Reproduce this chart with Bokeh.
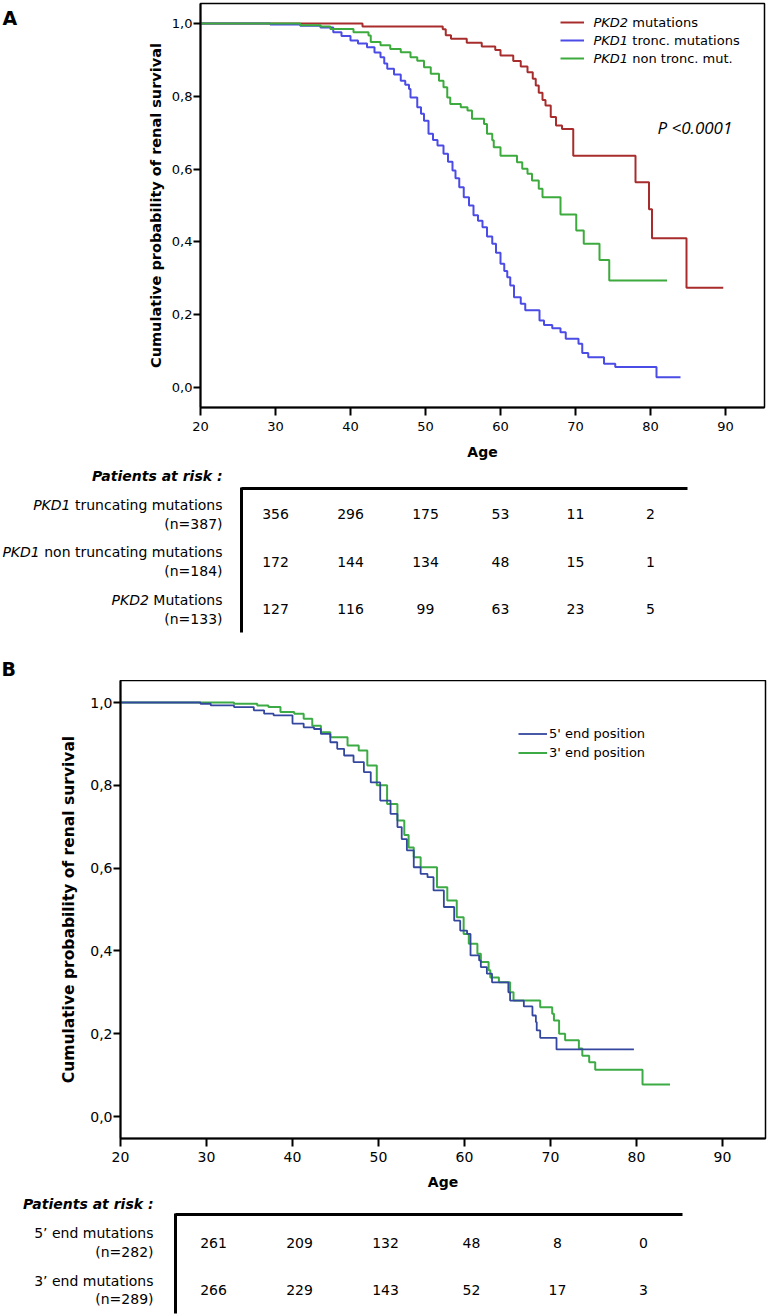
from bokeh.plotting import figure
from bokeh.models import (Range1d, FixedTicker, CustomJSTickFormatter, Legend,
                          LegendItem, Label)
from bokeh.layouts import row
from bokeh.embed import file_html
from bokeh.resources import INLINE
from bokeh.core.properties import value

# ---------------- data ----------------
x_ticks = [20, 30, 40, 50, 60, 70, 80, 90]
y_ticks = [0.0, 0.2, 0.4, 0.6, 0.8, 1.0]

# Panel A : Kaplan-Meier steps (age of step, survival after step)
pkd2_age = [20, 41.6, 52.3, 52.7, 53.4, 55.5, 57.5, 59.3, 60.0, 61.7, 62.7, 63.6,
            64.3, 64.7, 65.1, 65.6, 66.0, 66.7, 67.4, 68.2, 69.7, 78.0, 79.8,
            80.2, 84.8, 89.7]
pkd2_surv = [1.0, 0.992, 0.984, 0.968, 0.958, 0.947, 0.937, 0.927, 0.912, 0.897,
             0.882, 0.866, 0.848, 0.83, 0.81, 0.79, 0.775, 0.743, 0.72, 0.71,
             0.637, 0.564, 0.49, 0.41, 0.274, 0.274]

pkd1_trunc_age = [20, 29.3, 33.3, 36.0, 37.7, 38.8, 40.0, 41.0, 42.2, 43.2, 44.0,
                  44.5, 44.9, 45.8, 46.7, 47.3, 47.8, 48.0, 48.9, 49.4, 49.8, 50.4,
                  51.0, 51.6, 52.4, 53.0, 53.6, 54.0, 54.5, 55.1, 55.8, 56.4, 57.0,
                  57.6, 58.2, 58.9, 59.4, 60.0, 60.5, 60.9, 61.3, 61.8, 62.7, 63.3,
                  65.2, 65.8, 66.9, 68.0, 68.7, 70.4, 70.9, 71.7, 73.8, 75.3, 80.8,
                  84.0]
pkd1_trunc_surv = [1.0, 0.997, 0.994, 0.989, 0.976, 0.966, 0.953, 0.945, 0.935,
                   0.92, 0.907, 0.89, 0.876, 0.86, 0.843, 0.832, 0.82, 0.797, 0.77,
                   0.752, 0.733, 0.697, 0.68, 0.665, 0.642, 0.62, 0.596, 0.575,
                   0.55, 0.523, 0.50, 0.473, 0.458, 0.44, 0.415, 0.395, 0.37, 0.34,
                   0.32, 0.303, 0.28, 0.248, 0.23, 0.212, 0.184, 0.172, 0.163,
                   0.152, 0.134, 0.12, 0.095, 0.083, 0.065, 0.056, 0.028, 0.028]

pkd1_nontrunc_age = [20, 33.3, 36.0, 37.3, 40.4, 42.4, 42.7, 44.0, 45.3, 46.7, 48.0,
                     48.9, 49.8, 50.7, 51.8, 52.4, 52.9, 53.3, 54.7, 55.6, 56.2,
                     57.8, 58.2, 58.9, 59.1, 60.0, 62.2, 62.9, 63.6, 64.2, 65.1,
                     65.6, 68.0, 70.1, 71.1, 73.2, 74.5, 82.2]
pkd1_nontrunc_surv = [1.0, 0.995, 0.992, 0.985, 0.976, 0.967, 0.949, 0.94, 0.93,
                      0.921, 0.907, 0.898, 0.88, 0.862, 0.843, 0.825, 0.797, 0.779,
                      0.77, 0.761, 0.738, 0.724, 0.697, 0.679, 0.66, 0.637, 0.619,
                      0.601, 0.587, 0.569, 0.546, 0.523, 0.475, 0.431, 0.395, 0.35,
                      0.294, 0.294]

# Panel B
end5_age = [20, 29.3, 30.5, 33.2, 35.5, 36.7, 37.8, 40.0, 41.3, 42.5, 43.3, 44.4,
            45.2, 46.0, 47.1, 48.3, 49.1, 50.2, 51.4, 52.2, 52.7, 53.3, 54.1, 54.9,
            55.7, 56.4, 57.6, 58.8, 59.5, 60.3, 60.7, 61.7, 61.9, 62.6, 63.2, 65.1,
            65.3, 66.9, 67.9, 68.3, 68.4, 68.8, 70.7, 79.7]
end5_surv = [1.0, 0.997, 0.993, 0.989, 0.981, 0.973, 0.969, 0.949, 0.940, 0.936,
             0.924, 0.904, 0.888, 0.872, 0.856, 0.832, 0.807, 0.763, 0.731, 0.699,
             0.67, 0.643, 0.602, 0.586, 0.578, 0.546, 0.506, 0.473, 0.449, 0.441,
             0.389, 0.377, 0.361, 0.345, 0.324, 0.300, 0.280, 0.266, 0.244, 0.228,
             0.208, 0.190, 0.162, 0.162]

end3_age = [20, 33.2, 35.9, 37.2, 38.6, 40.2, 41.3, 42.3, 43.3, 44.4, 46.4, 47.7,
            48.7, 49.8, 51.0, 52.2, 53.0, 53.5, 54.1, 54.9, 56.8, 58.0, 59.1, 59.9,
            60.5, 61.5, 61.9, 62.8, 63.0, 64.0, 65.3, 65.7, 68.8, 70.2, 70.4, 71.0,
            71.7, 73.3, 73.7, 74.5, 75.2, 80.7, 83.9]
end3_surv = [1.0, 0.997, 0.993, 0.989, 0.977, 0.973, 0.961, 0.944, 0.928, 0.916,
             0.896, 0.884, 0.848, 0.80, 0.755, 0.715, 0.68, 0.65, 0.626, 0.602,
             0.554, 0.522, 0.481, 0.441, 0.417, 0.393, 0.373, 0.353, 0.336, 0.324,
             0.300, 0.280, 0.264, 0.248, 0.232, 0.200, 0.184, 0.164, 0.147, 0.131,
             0.113, 0.077, 0.077]

# Patients at risk
risk_ages = [30, 40, 50, 60, 70, 80]
riskA_pkd1_trunc = [356, 296, 175, 53, 11, 2]
riskA_pkd1_nontrunc = [172, 144, 134, 48, 15, 1]
riskA_pkd2 = [127, 116, 99, 63, 23, 5]
riskB_5end = [261, 209, 132, 48, 8, 0]
riskB_3end = [266, 229, 143, 52, 17, 3]

# ---------------- styling ----------------
FONT = "DejaVu Sans"
RED = "#A82C2C"
BLUE_A = "#4B4BE6"
GREEN_A = "#3CAA3C"
BLUE_B = "#34479F"
GREEN_B = "#3DAB45"

# approximate DejaVu Sans advance widths (em) for text layout
W = {' ': .318, '.': .318, 'a': .613, 'b': .635, 'c': .550, 'd': .635, 'e': .615,
     'f': .352, 'g': .635, 'h': .634, 'i': .278, 'l': .278, 'm': .974, 'n': .634,
     'o': .612, 'p': .635, 'r': .411, 's': .521, 't': .392, 'u': .634, 'v': .592,
     'M': .863, 'P': .603, 'K': .656, 'D': .770, '1': .636, '2': .636}


def tw(s, size):
    return sum(W.get(c, 0.6) for c in s) * size


# pixel -> data helpers (layout only; page has no margin)
def a_x(px): return 20 + (px - 200) / 7.5
def a_y(py): return (387 - py) / 364
def b_x(px): return 20 + (px - 120) / 8.6
def b_y(py): return (1116 - py) / 414


def style_plot(p, tick_px, ylab_px, x_tick_out, y_tick_out, x_std, y_std, x_lab_std, y_lab_std):
    p.xgrid.visible = False
    p.ygrid.visible = False
    p.outline_line_color = "black"
    p.outline_line_width = 1.5
    p.background_fill_color = "white"
    p.border_fill_color = "white"
    p.xaxis.ticker = FixedTicker(ticks=x_ticks)
    p.yaxis.ticker = FixedTicker(ticks=y_ticks)
    p.yaxis.formatter = CustomJSTickFormatter(code="return tick.toFixed(1).replace('.', ',');")
    for ax in p.axis:
        ax.axis_line_width = 2
        ax.axis_line_color = "black"
        ax.major_tick_line_width = 2
        ax.major_tick_line_color = "black"
        ax.major_tick_in = 0
        ax.minor_tick_line_color = None
        ax.major_label_text_font = FONT
        ax.major_label_text_font_size = tick_px
        ax.major_label_text_color = "black"
        ax.axis_label_text_font = FONT
        ax.axis_label_text_font_style = "bold"
        ax.axis_label_text_color = "black"
    p.xaxis.major_tick_out = x_tick_out
    p.yaxis.major_tick_out = y_tick_out
    p.xaxis.major_label_standoff = x_std
    p.yaxis.major_label_standoff = y_std
    p.xaxis.axis_label_standoff = x_lab_std
    p.yaxis.axis_label_standoff = y_lab_std
    p.xaxis.axis_label_text_font_size = "14px"
    p.yaxis.axis_label_text_font_size = ylab_px


def lab(p, x, y, text, size, style="normal", align="left", baseline="middle", font=FONT):
    p.add_layout(Label(x=x, y=y, text=text, text_font=font, text_font_size=size,
                       text_font_style=style, text_align=align,
                       text_baseline=baseline, text_color="black"))


def blank_fig(w, h, xr, yr):
    f = figure(width=w, height=h, x_range=xr, y_range=yr, output_backend="svg",
               toolbar_location=None, x_axis_type=None, y_axis_type=None,
               min_border=0, min_border_left=0, min_border_right=0,
               min_border_top=0, min_border_bottom=0)
    f.outline_line_color = None
    f.xgrid.visible = False
    f.ygrid.visible = False
    return f


# ---------------- Panel A plot ----------------
fa = blank_fig(20, 466, Range1d(0, 20), Range1d(466, 0))
lab(fa, 2, 4, "A", "19px", "bold", baseline="top")

pa = figure(width=748, height=466, x_range=Range1d(20, a_x(764)),
            y_range=Range1d(a_y(407), a_y(3)), output_backend="svg",
            toolbar_location=None, min_border_left=180, min_border_right=4,
            min_border_top=3, min_border_bottom=59)
style_plot(pa, "13px", "14.5px", 8, 7, 6, 1, 10, 5)
pa.xaxis.axis_label = "Age"
pa.yaxis.axis_label = "Cumulative probability of renal survival"

r_pkd2 = pa.step(pkd2_age, pkd2_surv, mode="after", line_color=RED, line_width=2)
r_tr = pa.step(pkd1_trunc_age, pkd1_trunc_surv, mode="after", line_color=BLUE_A, line_width=2)
r_nt = pa.step(pkd1_nontrunc_age, pkd1_nontrunc_surv, mode="after", line_color=GREEN_A, line_width=2)

leg_a = Legend(items=[LegendItem(label=" ", renderers=[r_pkd2]),
                      LegendItem(label=" ", renderers=[r_tr]),
                      LegendItem(label=" ", renderers=[r_nt])],
               location=(360, 340), orientation="vertical", padding=0, spacing=0,
               margin=0, glyph_width=24, glyph_height=18, label_height=18,
               label_width=4, label_standoff=0, border_line_color=None,
               background_fill_alpha=0, label_text_font_size="13px")
pa.add_layout(leg_a)

legA_ital = ["PKD2", "PKD1", "PKD1"]
legA_rest = ["mutations", "tronc. mutations", "non tronc. mut."]
for i, cy in enumerate([22, 40, 58]):
    lab(pa, a_x(593), a_y(cy), legA_ital[i], "13px", "italic")
    lab(pa, a_x(593 + tw(legA_ital[i] + " ", 13)), a_y(cy), legA_rest[i], "13px")

lab(pa, a_x(657), a_y(127), "P <0.0001", "17px", "italic", font="Open Sans")

# ---------------- Panel A table ----------------
ta = blank_fig(768, 214, Range1d(a_x(0), a_x(768)), Range1d(680, 466))

lab(ta, a_x(222), 475, "Patients at risk :", "14px", "bold italic", align="right")
ta.segment(x0=[a_x(241)], y0=[488], x1=[a_x(687)], y1=[488], line_color="black", line_width=3)
ta.segment(x0=[a_x(241)], y0=[487], x1=[a_x(241)], y1=[632], line_color="black", line_width=3)

rowsA_ital = ["PKD1", "PKD1", "PKD2"]
rowsA_rest = ["truncating mutations", "non truncating mutations", "Mutations"]
rowsA_n = ["(n=387)", "(n=184)", "(n=133)"]
rowsA_vals = [riskA_pkd1_trunc, riskA_pkd1_nontrunc, riskA_pkd2]
rowsA_y = [(504, 523, 513), (551, 570, 561), (599, 618, 608)]
for i in range(3):
    y1, y2, yn = rowsA_y[i]
    lab(ta, a_x(222), y1, rowsA_rest[i], "14px", align="right")
    lab(ta, a_x(222 - tw(" " + rowsA_rest[i], 14)), y1, rowsA_ital[i], "14px", "italic", align="right")
    lab(ta, a_x(222), y2, rowsA_n[i], "14px", align="right")
    ta.text(x=risk_ages, y=[yn] * len(risk_ages), text=[str(v) for v in rowsA_vals[i]],
            text_font=value(FONT), text_font_size="14px", text_align="center",
            text_baseline="middle", text_color="black")

lab(ta, a_x(1), 679, "B", "19px", "bold", baseline="bottom")

# ---------------- Panel B plot ----------------
pb = figure(width=768, height=515, x_range=Range1d(20, b_x(765)),
            y_range=Range1d(b_y(1138), b_y(680)), output_backend="svg",
            toolbar_location=None, min_border_left=120, min_border_right=3,
            min_border_top=0, min_border_bottom=57)
style_plot(pb, "14px", "15.5px", 8, 7, 5, 1, 9, 9)
pb.xaxis.axis_label = "Age"
pb.yaxis.axis_label = "Cumulative probability of renal survival"

r3 = pb.step(end3_age, end3_surv, mode="after", line_color=GREEN_B, line_width=2)
r5 = pb.step(end5_age, end5_surv, mode="after", line_color=BLUE_B, line_width=1.8)

leg_b = Legend(items=[LegendItem(label="5' end position", renderers=[r5]),
                      LegendItem(label="3' end position", renderers=[r3])],
               location=(398, 376), orientation="vertical", padding=0, spacing=0,
               margin=0, glyph_width=29, glyph_height=19, label_height=19,
               label_standoff=2, border_line_color=None, background_fill_alpha=0,
               label_text_font=FONT, label_text_font_size="13px",
               label_text_color="black")
pb.add_layout(leg_b)

# ---------------- Panel B table ----------------
tb = blank_fig(768, 120, Range1d(b_x(0), b_x(768)), Range1d(1315, 1195))

lab(tb, b_x(153), 1203, "Patients at risk :", "14px", "bold italic", align="right")
tb.segment(x0=[b_x(175)], y0=[1214], x1=[b_x(682)], y1=[1214], line_color="black", line_width=3)
tb.segment(x0=[b_x(175)], y0=[1213], x1=[b_x(175)], y1=[1313], line_color="black", line_width=3)

rowsB_name = ["5\u2019 end mutations", "3\u2019 end mutations"]
rowsB_n = ["(n=282)", "(n=289)"]
rowsB_vals = [riskB_5end, riskB_3end]
rowsB_y = [(1232, 1251, 1242), (1280, 1298, 1289)]
for i in range(2):
    y1, y2, yn = rowsB_y[i]
    lab(tb, b_x(153), y1, rowsB_name[i], "14px", align="right")
    lab(tb, b_x(153), y2, rowsB_n[i], "14px", align="right")
    tb.text(x=risk_ages, y=[yn] * len(risk_ages), text=[str(v) for v in rowsB_vals[i]],
            x_offset=7, text_font=value(FONT), text_font_size="14px",
            text_align="center", text_baseline="middle", text_color="black")

roots = [row(fa, pa, spacing=0), ta, pb, tb]
open("out.html", "w").write(file_html(roots, INLINE))
